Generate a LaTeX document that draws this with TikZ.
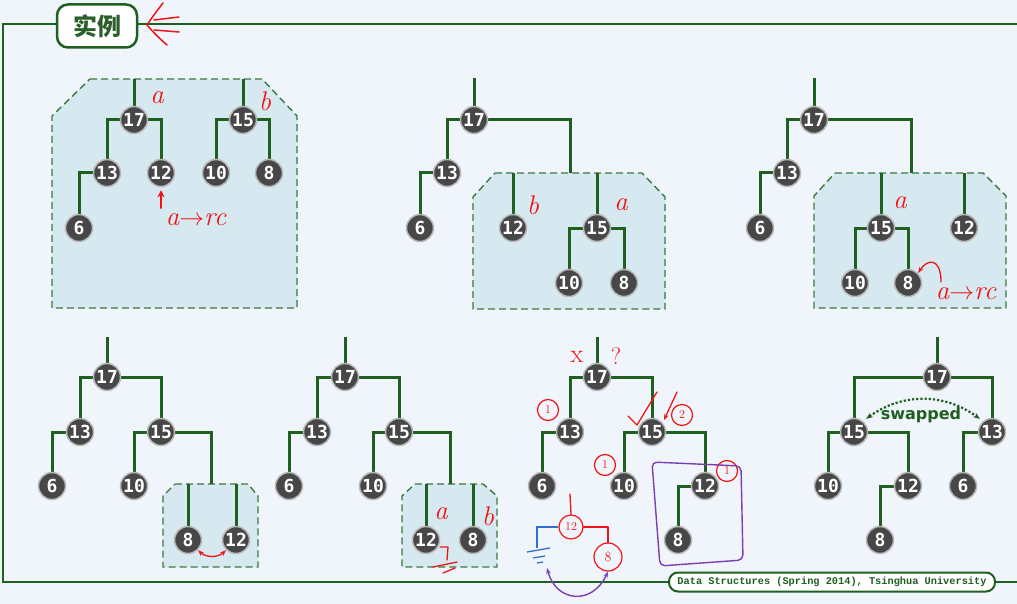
\documentclass[tikz,border=0pt]{standalone}
\usepackage{fontspec}
\newfontfamily\numfont{DejaVu Sans Mono}
\newfontfamily\cjk{Noto Sans CJK SC}
\newfontfamily\footfont{Liberation Mono}
\newfontfamily\swfont{DejaVu Sans}
\usetikzlibrary{arrows.meta}
\definecolor{bgc}{HTML}{F0F5FC}
\definecolor{eg}{HTML}{1F5F1F}
\definecolor{titlegreen}{HTML}{2A5F2A}
\definecolor{regfill}{HTML}{D6E9F1}
\definecolor{regline}{HTML}{3A7A3A}
\definecolor{nodefill}{HTML}{474747}
\definecolor{noderim}{HTML}{B8B8B8}
\definecolor{annred}{HTML}{F01414}
\definecolor{annpurple}{HTML}{7B3FB5}
\definecolor{annblue}{HTML}{2F6FD0}
\pgfdeclarelayer{regions}
\pgfdeclarelayer{edges}
\pgfsetlayers{regions,edges,main}
\begin{document}
\begin{tikzpicture}[x=1pt,y=-1pt,
 hn/.style={circle, fill=nodefill, draw=noderim, line width=1.5pt, minimum size=27pt, inner sep=0pt, text=white, font=\numfont\bfseries\fontsize{18}{18}\selectfont},
 tedge/.style={draw=eg, line width=3pt},
 region/.style={draw=regline, fill=regfill, line width=1.4pt, dash pattern=on 7pt off 4pt},
 ann/.style={draw=annred, line width=1.3pt, line cap=round, line join=round},
 anntext/.style={text=annred, font=\itshape\fontsize{27}{27}\selectfont, inner sep=0pt},
 circnum/.style={circle, draw=annred, line width=1.2pt, text=annred, inner sep=1pt, minimum size=21pt, font=\fontsize{12}{12}\selectfont}
]
\useasboundingbox (0,0) rectangle (1017,604);
\begin{pgfonlayer}{regions}
\fill[bgc] (0,0) rectangle (1017,604);
\path[region] (90,79) -- (262,79) -- (297,116) -- (297,308) -- (52,308) -- (52,116) -- cycle;
\path[region] (495,173) -- (642,173) -- (665,197) -- (665,309) -- (473,309) -- (473,197) -- cycle;
\path[region] (835,173) -- (983,173) -- (1006,196) -- (1006,308) -- (814,308) -- (814,196) -- cycle;
\path[region] (175,484) -- (248,484) -- (258,496) -- (258,567) -- (163,567) -- (163,496) -- cycle;
\path[region] (415,484) -- (483,484) -- (497,496) -- (497,567) -- (402,567) -- (402,496) -- cycle;
\end{pgfonlayer}

% frame
\begin{pgfonlayer}{edges}
\draw[eg, line width=2.5pt] (1017,24) -- (3,24) -- (3,582) -- (1017,582);
\end{pgfonlayer}

% ---------- Panel A ----------
\node[hn] (a17) at (134,120) {17};
\node[hn] (a15) at (243,120) {15};
\node[hn] (a13) at (107,173) {13};
\node[hn] (a12) at (161,173) {12};
\node[hn] (a10) at (216,173) {10};
\node[hn] (a8)  at (269,173) {8};
\node[hn] (a6)  at (79,228) {6};
\coordinate (as17) at (134,79);
\coordinate (as15) at (243,79);
% ---------- Panel B ----------
\node[hn] (b17) at (474,120) {17};
\node[hn] (b13) at (447,173) {13};
\node[hn] (b6)  at (420,228) {6};
\node[hn] (b12) at (513,228) {12};
\node[hn] (b15) at (597,228) {15};
\node[hn] (b10) at (569,283) {10};
\node[hn] (b8)  at (624,283) {8};
\coordinate (bs) at (474,78);
\coordinate (bj) at (570,173);
\coordinate (bs12) at (513,173);
\coordinate (bs15) at (597,173);
% ---------- Panel C ----------
\node[hn] (c17) at (814,120) {17};
\node[hn] (c13) at (787,173) {13};
\node[hn] (c6)  at (760,228) {6};
\node[hn] (c15) at (881,228) {15};
\node[hn] (c12) at (964,228) {12};
\node[hn] (c10) at (855,283) {10};
\node[hn] (c8)  at (908,283) {8};
\coordinate (cs) at (814,78);
\coordinate (cj) at (911,173);
\coordinate (cs15) at (881,173);
\coordinate (cs12) at (964,173);
% ---------- Panel D ----------
\node[hn] (d17) at (107,377) {17};
\node[hn] (d13) at (80,432) {13};
\node[hn] (d15) at (161,432) {15};
\node[hn] (d6)  at (52,486) {6};
\node[hn] (d10) at (134,486) {10};
\node[hn] (d8)  at (188,540) {8};
\node[hn] (d12) at (236,540) {12};
\coordinate (ds) at (107,337);
\coordinate (dj) at (211,484);
\coordinate (ds8) at (188,484);
\coordinate (ds12) at (236,484);
% ---------- Panel E ----------
\node[hn] (e17) at (345,377) {17};
\node[hn] (e13) at (317,432) {13};
\node[hn] (e15) at (399,432) {15};
\node[hn] (e6)  at (289,486) {6};
\node[hn] (e10) at (373,486) {10};
\node[hn] (e12) at (426,540) {12};
\node[hn] (e8)  at (473,540) {8};
\coordinate (es) at (345,337);
\coordinate (ej) at (450,484);
\coordinate (es12) at (426,484);
\coordinate (es8) at (473,484);
% ---------- Panel F ----------
\node[hn] (f17) at (597,377) {17};
\node[hn] (f13) at (570,432) {13};
\node[hn] (f15) at (652,432) {15};
\node[hn] (f6)  at (542,486) {6};
\node[hn] (f10) at (624,486) {10};
\node[hn] (f12) at (705,486) {12};
\node[hn] (f8)  at (678,540) {8};
\coordinate (fs) at (597,337);
% ---------- Panel G ----------
\node[hn] (g17) at (937,377) {17};
\node[hn] (g15) at (854,432) {15};
\node[hn] (g13) at (992,432) {13};
\node[hn] (g10) at (828,486) {10};
\node[hn] (g12) at (908,486) {12};
\node[hn] (g6)  at (963,486) {6};
\node[hn] (g8)  at (880,540) {8};
\coordinate (gs) at (937,337);

\begin{pgfonlayer}{edges}
% A
\draw[tedge] (as17) -- (a17);
\draw[tedge] (as15) -- (a15);
\draw[tedge] (a17) -| (a13);
\draw[tedge] (a17) -| (a12);
\draw[tedge] (a15) -| (a10);
\draw[tedge] (a15) -| (a8);
\draw[tedge] (a13) -| (a6);
% B
\draw[tedge] (bs) -- (b17);
\draw[tedge] (b17) -| (b13);
\draw[tedge] (b17) -| (bj);
\draw[tedge] (b13) -| (b6);
\draw[tedge] (bs12) -- (b12);
\draw[tedge] (bs15) -- (b15);
\draw[tedge] (b15) -| (b10);
\draw[tedge] (b15) -| (b8);
% C
\draw[tedge] (cs) -- (c17);
\draw[tedge] (c17) -| (c13);
\draw[tedge] (c17) -| (cj);
\draw[tedge] (c13) -| (c6);
\draw[tedge] (cs15) -- (c15);
\draw[tedge] (cs12) -- (c12);
\draw[tedge] (c15) -| (c10);
\draw[tedge] (c15) -| (c8);
% D
\draw[tedge] (ds) -- (d17);
\draw[tedge] (d17) -| (d13);
\draw[tedge] (d17) -| (d15);
\draw[tedge] (d13) -| (d6);
\draw[tedge] (d15) -| (d10);
\draw[tedge] (d15) -| (dj);
\draw[tedge] (ds8) -- (d8);
\draw[tedge] (ds12) -- (d12);
% E
\draw[tedge] (es) -- (e17);
\draw[tedge] (e17) -| (e13);
\draw[tedge] (e17) -| (e15);
\draw[tedge] (e13) -| (e6);
\draw[tedge] (e15) -| (e10);
\draw[tedge] (e15) -| (ej);
\draw[tedge] (es12) -- (e12);
\draw[tedge] (es8) -- (e8);
% F
\draw[tedge] (fs) -- (f17);
\draw[tedge] (f17) -| (f13);
\draw[tedge] (f17) -| (f15);
\draw[tedge] (f13) -| (f6);
\draw[tedge] (f15) -| (f10);
\draw[tedge] (f15) -| (f12);
\draw[tedge] (f12) -| (f8);
% G
\draw[tedge] (gs) -- (g17);
\draw[tedge] (g17) -| (g15);
\draw[tedge] (g17) -| (g13);
\draw[tedge] (g15) -| (g10);
\draw[tedge] (g15) -| (g12);
\draw[tedge] (g13) -| (g6);
\draw[tedge] (g12) -| (g8);
\end{pgfonlayer}

% title and footer
\node[draw=eg, fill=white, line width=2.5pt, rounded corners=11pt, minimum width=80pt, minimum height=43pt, text=titlegreen, font=\cjk\bfseries\fontsize{24}{24}\selectfont] (title) at (97,26) {实例};
\node[draw=eg, fill=white, line width=2pt, rounded corners=9pt, minimum width=326pt, minimum height=19pt, inner sep=0pt, text=eg, font=\footfont\bfseries\fontsize{10.3}{10.3}\selectfont] (foot) at (832,582) {Data Structures (Spring 2014), Tsinghua University};

% swapped
\draw[eg, line width=2.2pt, dotted, {Stealth[length=7pt]}-{Stealth[length=7pt]}] ([shift={(2,-3)}]g15.north east) to[bend left=36] ([shift={(-2,-3)}]g13.north west);
\node[text=eg, font=\swfont\bfseries\fontsize{16}{16}\selectfont, inner sep=0pt] (sw) at (921,415) {swapped};

% ---------- red annotations ----------
% title arrow
\draw[ann, line width=1.5pt] (163,3) .. controls (156,12) and (151,19) .. (147,25) .. controls (153,32) and (160,39) .. (167,45);
\draw[ann, line width=1.5pt] (154,20) -- (179,17);
\draw[ann, line width=1.5pt] (154,30) -- (179,32);
% panel A
\node[anntext] (laA) at (157,98) {a};
\node[anntext] (lbA) at (265,101) {b};
\node[anntext] (arcA) at (196,220) {a$\to$rc};
\draw[ann, -{Stealth[length=7pt, width=7pt]}] ([yshift=-21pt]a12.south) -- ([yshift=-3pt]a12.south);
% panel B
\node[anntext] (lbB) at (533,205) {b};
\node[anntext] (laB) at (621,205) {a};
% panel C
\node[anntext] (laC) at (900,203) {a};
\node[anntext] (arcC) at (966,294) {a$\to$rc};
\draw[ann, -{Stealth[length=6pt]}] (941,282) .. controls (941,258) and (928,258) .. (c8.north east);
% panel D
\draw[ann, {Stealth[length=6pt]}-{Stealth[length=6pt]}] (d8.south east) to[bend right=45] (d12.south west);
% panel E
\node[anntext] (laE) at (441,514) {a};
\node[anntext] (lbE) at (488,516) {b};
\draw[ann] (440,547) -- (448,547) -- (447,560);
\draw[ann] (433,567) -- (457,562);
\draw[ann] (443,573) -- (455,568);
% panel F
\node[text=annred, font=\fontsize{26}{26}\selectfont, inner sep=0pt] (xF) at (577,357) {x};
\node[text=annred, font=\fontsize{24}{24}\selectfont, inner sep=0pt] (qF) at (616,356) {?};
\node[circnum] (c1a) at (548,410) {1};
\node[circnum] (c2) at (682,415) {2};
\node[circnum] (c1b) at (605,465) {1};
\node[circnum] (c1c) at (727,471) {1};
\draw[ann] (628,416) -- (637,425) -- (657,392);
\draw[ann, -{Stealth[length=6pt]}] (677,392) -- (664,420);
\draw[annpurple, line width=1.4pt, rounded corners=5pt] (652,462) -- (741,466) -- (743,560) -- (660,566) -- cycle;
\node[circnum, minimum size=24pt] (r12) at (571,527) {12};
\node[circnum, minimum size=28pt, font=\fontsize{14}{14}\selectfont] (r8) at (608,557) {8};
\draw[ann] (570,494) -- (r12.north);
\draw[ann] (r12.east) -| (r8.north);
\draw[annblue, line width=1.3pt] (r12.west) -| (537,548);
\draw[annblue, line width=1.3pt] (527,552) -- (550,548);
\draw[annblue, line width=1.3pt] (533,558) -- (545,556);
\draw[annblue, line width=1.3pt] (537,563) -- (543,562);
\draw[annpurple, line width=1.4pt, {Stealth[length=6pt]}-{Stealth[length=6pt]}] (547,568) .. controls (556,602) and (592,606) .. (r8.south);
\end{tikzpicture}
\end{document}
